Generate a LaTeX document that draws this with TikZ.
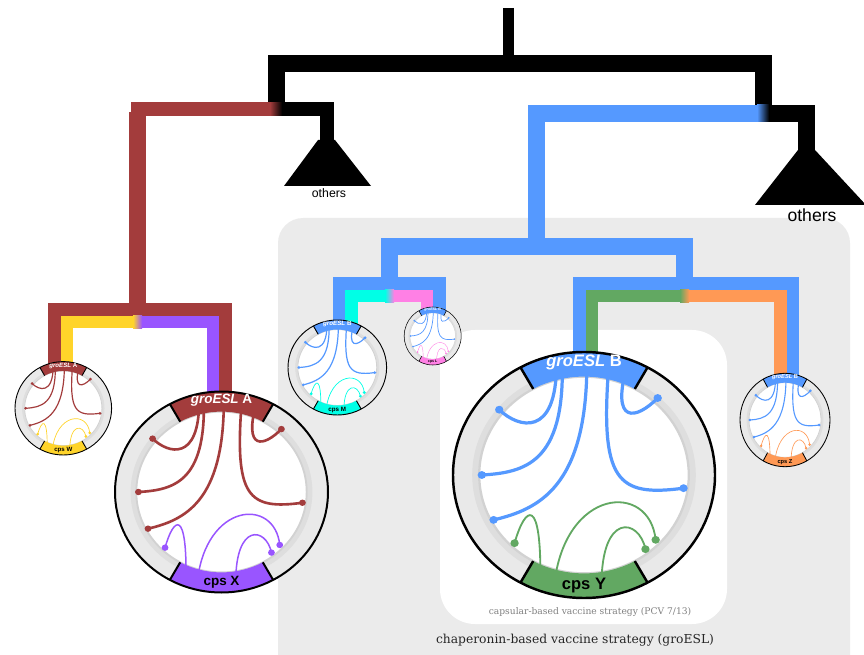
\documentclass[tikz,border=0pt]{standalone}
\usepackage{fontspec}
\setsansfont{Liberation Sans}
\newfontfamily\notefont{DejaVu Serif}
\usepackage{tikz}
\usetikzlibrary{positioning}

\definecolor{groA}{HTML}{A33C3C}
\definecolor{groB}{HTML}{5599FF}
\definecolor{cpsW}{HTML}{FFD42A}
\definecolor{cpsX}{HTML}{9955FF}
\definecolor{cpsM}{HTML}{00FFE6}
\definecolor{cpsL}{HTML}{FF80E5}
\definecolor{cpsY}{HTML}{62A862}
\definecolor{cpsZ}{HTML}{FF9955}
\definecolor{boxgray}{HTML}{EBEBEB}
\definecolor{ringgray}{HTML}{E9E9E9}
\definecolor{edgegray}{HTML}{D2D2D2}

% #1 name, #2 #3 centre, #4 #5 radii, #6 groESL colour, #7 cps colour,
% #8 groESL letter, #9 cps letter
\newcommand{\chordplot}[9]{%
  \coordinate (#1) at (#2,#3);
  \begin{scope}[shift={(#2,#3)}, xscale=#4, yscale=-#5]
    \fill[ringgray] (0,0) circle (1);
    \draw[edgegray!50!ringgray, line width=0.04pt*#4] (0,0) circle (0.83);
    \fill[white] (0,0) circle (0.8);
    \draw[edgegray, line width=0.015pt*#4] (0,0) circle (0.8);
    % groESL links
    \begin{scope}[draw=#6, fill=#6, line width=0.021pt*#4]
      \draw (-0.21,0.9) .. controls (-0.21,0.3) and (-0.5,0.38) .. (-0.647,0.531);
      \draw (-0.166,0.9) .. controls (-0.15,0.1) and (-0.45,0.02) .. (-0.78,0);
      \draw (0.022,0.9) .. controls (0.02,-0.1) and (-0.35,-0.28) .. (-0.69,-0.365);
      \draw (0.19,0.9) .. controls (0.12,-0.05) and (0.25,-0.18) .. (0.76,-0.107);
      \draw (0.33,0.9) .. controls (0.2,0.4) and (0.4,0.45) .. (0.5625,0.626);
      \foreach \p in {(-0.647,0.531),(-0.78,0),(-0.69,-0.365),(0.5625,0.626),(0.76,-0.107)}
        \fill \p circle (0.032);
    \end{scope}
    % cps links
    \begin{scope}[draw=#7, fill=#7, line width=0.012pt*#4]
      \draw (-0.334,-0.9) .. controls (-0.32,-0.15) and (-0.45,-0.25) .. (-0.53,-0.554);
      \draw (-0.228,-0.9) .. controls (-0.15,-0.1) and (0.5,-0.05) .. (0.547,-0.527);
      \draw (0.134,-0.9) .. controls (0.13,-0.3) and (0.42,-0.35) .. (0.469,-0.603);
      \foreach \p in {(-0.53,-0.554),(0.547,-0.527),(0.469,-0.603)}
        \fill \p circle (0.032);
    \end{scope}
    % bands
    \fill[#6] (61:1) arc[start angle=61, end angle=119, radius=1]
      -- (119:0.8) arc[start angle=119, end angle=61, radius=0.8] -- cycle;
    \fill[#7] (241:1) arc[start angle=241, end angle=299, radius=1]
      -- (299:0.8) arc[start angle=299, end angle=241, radius=0.8] -- cycle;
    \draw[line width=0.016pt*#4] (0,0) circle (1)
      (61:0.8) -- (61:1) (119:0.8) -- (119:1)
      (241:0.8) -- (241:1) (299:0.8) -- (299:1);
    \node[bandtext, text=white, scale=#4/106.5] (#1-gro) at (0,0.915) {\textit{groESL} #8};
    \node[bandtext, scale=#4/106.5] (#1-cps) at (0,-0.9) {cps #9};
  \end{scope}}

\begin{document}
\begin{tikzpicture}[x=0.03cm, y=-0.03cm,
    trunk/.style={line width=0.51cm},
    flat/.style={line width=0.42cm},
    twig/.style={line width=0.375cm},
    root/.style={line width=0.33cm},
    bandtext/.style={font=\sffamily\bfseries\fontsize{11.5}{12}\selectfont, inner sep=0pt},
    others/.style={font=\sffamily\fontsize{#1}{#1}\selectfont, inner sep=0pt},
    note/.style={font=\notefont\fontsize{#1}{#1}\selectfont, inner sep=0pt}
]
    \useasboundingbox (0,0) rectangle (864,655);

    % strategy boxes
    \fill[boxgray, rounded corners=0.75cm] (278,218) rectangle (850,690);
    \fill[white, rounded corners=1.05cm] (440,330) rectangle (727,624);
    \node[note=7.8, text=black!50] (pcv) at (590,612) {capsular-based vaccine strategy (PCV 7/13)};
    \node[note=10.5, text=black!85] (groesl) at (575,640) {chaperonin-based vaccine strategy (groESL)};

    % tree points
    \coordinate (root) at (508.5,8);
    \coordinate (top)  at (508.5,64);
    \coordinate (nA)   at (276,109);
    \coordinate (nB)   at (763,113.5);
    \coordinate (othA) at (326.5,140);
    \coordinate (othB) at (806.5,150);
    \coordinate (sA)   at (137.5,309.5);
    \coordinate (sAc)  at (137.5,322);
    \coordinate (sB)   at (536,246.5);
    \coordinate (sB1)  at (389.5,283.5);
    \coordinate (sB1c) at (389.5,296);
    \coordinate (sB2)  at (684.5,283.5);
    \coordinate (sB2c) at (684.5,296);
    \coordinate (wG) at (54.5,375);   \coordinate (wC) at (67,375);
    \coordinate (xC) at (213,405);    \coordinate (xG) at (225.5,405);
    \coordinate (mG) at (339,335);    \coordinate (mC) at (351.5,335);
    \coordinate (lC) at (427,318);    \coordinate (lG) at (439.5,318);
    \coordinate (yG) at (579.5,370);  \coordinate (yC) at (592,370);
    \coordinate (zC) at (780.5,385);  \coordinate (zG) at (793,385);

    % others
    \fill (318,140) -- (284,186) -- (371,186) -- (335,140) -- cycle;
    \fill (798,150) -- (755,205) -- (866,205) -- (815,150) -- cycle;
    \node[others=10.5] (othersA) at (329,193) {others};
    \node[others=15] (othersB) at (812,215) {others};

    % black backbone
    \draw[root] (root) -- (top);
    \draw[trunk] (nA) |- (top) -| (nB);
    \draw[flat] (nA) -| (othA);
    \draw[trunk] (nB) -| (othB);

    % groESL A lineage
    \draw[flat, groA] (nA) -| (sA);
    \draw[trunk, groA] (137.5,112) -- (sA);
    \draw[twig, groA] (wG) |- (sA) -| (xG);
    \draw[twig, cpsW] (wC) |- (sAc);
    \draw[twig, cpsX] (sAc) -| (xC);

    % groESL B lineage
    \draw[trunk, groB] (nB) -| (sB);
    \draw[trunk, groB] (sB1) |- (sB) -| (sB2);
    \draw[twig, groB] (mG) |- (sB1) -| (lG);
    \draw[twig, cpsM] (mC) |- (sB1c);
    \draw[twig, cpsL] (sB1c) -| (lC);
    \draw[twig, groB] (yG) |- (sB2) -| (zG);
    \draw[twig, cpsY] (yC) |- (sB2c);
    \draw[twig, cpsZ] (sB2c) -| (zC);

    % colour changes
    \shade[left color=groA, right color=black] (270,102.7) rectangle (282,115.3);
    \shade[left color=groB, right color=black] (757,105) rectangle (769,122);
    \shade[left color=cpsW, right color=cpsX] (133,315.75) rectangle (142,328.25);
    \shade[left color=cpsM, right color=cpsL] (385,289.75) rectangle (394,302.25);
    \shade[left color=cpsY, right color=cpsZ] (680,289.75) rectangle (689,302.25);

    % circles
    \chordplot{W}{63.3}{408.3}{48.3}{46.7}{groA}{cpsW}{A}{W}
    \chordplot{X}{221.5}{492}{106.5}{100.5}{groA}{cpsX}{A}{X}
    \chordplot{M}{337.3}{367.5}{49.3}{47.5}{groB}{cpsM}{B}{M}
    \chordplot{L}{432.7}{336}{28.5}{29}{groB}{cpsL}{B}{L}
    \chordplot{Y}{584}{475}{131}{123}{groB}{cpsY}{B}{Y}
    \chordplot{Z}{785}{420}{45}{46.7}{groB}{cpsZ}{B}{Z}
\end{tikzpicture}
\end{document}
